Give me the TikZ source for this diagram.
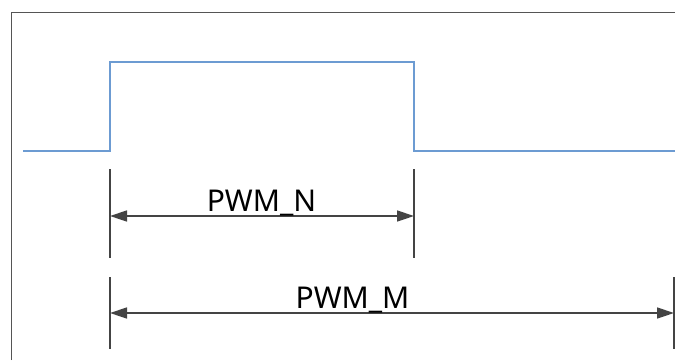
\documentclass[tikz,border=0pt]{standalone}
\usepackage{fontspec}
\setmainfont{Noto Sans}
\usetikzlibrary{arrows.meta}
\definecolor{sig}{HTML}{6C9BD2}
\definecolor{dim}{HTML}{444444}
\definecolor{frm}{HTML}{555555}
\begin{document}
\begin{tikzpicture}[x=1pt,y=-1pt,
  signal/.style={draw=sig,line width=1.8pt},
  tick/.style={draw=dim,line width=1.6pt},
  dimline/.style={draw=dim,line width=1.5pt,{Triangle[length=17pt,width=11pt]}-{Triangle[length=17pt,width=11pt]}},
  lbl/.style={font=\fontsize{30}{36}\selectfont,inner sep=0pt,anchor=base}]
\useasboundingbox (0,0) rectangle (675,360);
\fill[white] (0,0) rectangle (675,360);
\draw[frm,line width=1.3pt] (11.5,360) -- (11.5,12.5) -- (675,12.5);
% signal
\coordinate (s0) at (23,151);
\coordinate (s1) at (110,151);
\coordinate (s2) at (110,62);
\coordinate (s3) at (414,62);
\coordinate (s4) at (414,151);
\coordinate (s5) at (675,151);
\draw[signal] (s0) -- (s1) -- (s2) -- (s3) -- (s4) -- (s5);
% N ticks
\coordinate (na) at (110,169);
\coordinate (nb) at (110,258);
\coordinate (nc) at (414,169);
\coordinate (nd) at (414,258);
\draw[tick] (na) -- (nb);
\draw[tick] (nc) -- (nd);
\coordinate (nl) at (110,216);
\coordinate (nr) at (414,216);
\draw[dimline] (nl) -- (nr);
\node[lbl] (tn) at (261.5,211.5) {PWM\_N};
% M ticks
\coordinate (ma) at (110,277);
\coordinate (mb) at (110,349);
\coordinate (mc) at (674,277);
\coordinate (md) at (674,349);
\draw[tick] (ma) -- (mb);
\draw[tick] (mc) -- (md);
\coordinate (ml) at (110,313);
\coordinate (mr) at (674,313);
\draw[dimline] (ml) -- (mr);
\node[lbl] (tm) at (352.5,308) {PWM\_M};
\end{tikzpicture}
\end{document}
